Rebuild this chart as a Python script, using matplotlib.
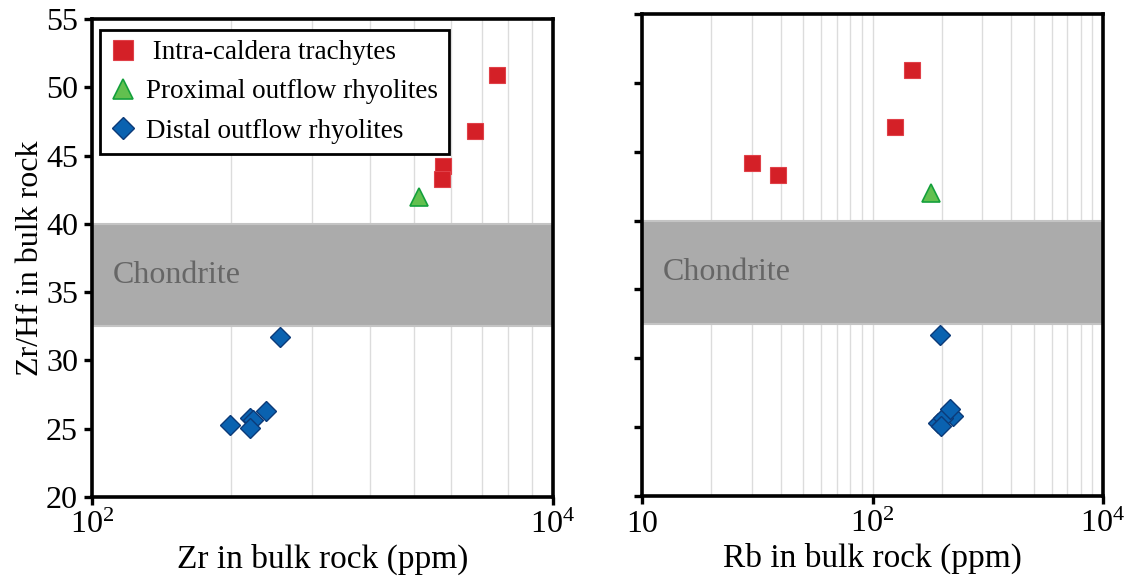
import numpy as np
import matplotlib
matplotlib.use('Agg')
import matplotlib.pyplot as plt
from matplotlib.ticker import FixedLocator, NullFormatter
from matplotlib import rcParams

rcParams['font.family'] = 'Liberation Serif'
rcParams['mathtext.fontset'] = 'custom'
rcParams['mathtext.rm'] = 'Liberation Serif'

#%% data
# Zr/Hf ratio per sample (shared by both panels)
trach_zrhf = [44.2, 43.3, 46.8, 50.9]
prox_zrhf = [42.0]
dist_zrhf = [25.3, 25.8, 25.65, 25.05, 26.3, 31.7]

# Zr (ppm)
trach_zr = [576, 573, 676, 757]
prox_zr = [511]
dist_zr = [199, 220, 224, 220, 238, 256]

# Rb (ppm)
trach_rb = [30.0, 38.9, 125, 149]
prox_rb = [179]
dist_rb = [192, 223, 202, 198, 217, 196]

chondrite = (32.5, 40.0)

#%% styles
red = dict(marker='s', ms=12, mfc='#d42027', mec='#e04048', mew=0.8, ls='none')
green = dict(marker='^', ms=12.5, mfc='#62c04f', mec='#14a03c', mew=1.2, ls='none')
blue = dict(marker='D', ms=10, mfc='#0a62b0', mec='#0c3a78', mew=1.0, ls='none')

fig = plt.figure(figsize=(11.24, 5.77), dpi=100)
axL = fig.add_axes([92/1124, 80/577, 461/1124, 478/577])
axR = fig.add_axes([642/1124, 81/577, 461/1124, 482/577])

def style(ax, xlim, minors):
    ax.set_xscale('log')
    ax.set_xlim(*xlim)
    ax.set_ylim(20, 55)
    ax.xaxis.set_minor_locator(FixedLocator(minors))
    ax.xaxis.set_minor_formatter(NullFormatter())
    ax.grid(True, which='both', axis='x', color='#dcdcdc', lw=1.0, zorder=0)
    ax.axhspan(chondrite[0], chondrite[1], color='#ababab', zorder=1, lw=0)
    ax.axhline(chondrite[0], color='#c4c4c4', lw=1.5, zorder=1.1)
    ax.axhline(chondrite[1], color='#c4c4c4', lw=1.5, zorder=1.1)
    ax.set_axisbelow(True)
    for s in ax.spines.values():
        s.set_linewidth(2.6)
        s.set_zorder(5)
    ax.tick_params(which='major', direction='out', length=6, width=2.4, labelsize=23, pad=4)
    ax.tick_params(which='minor', length=0)
    ax.set_yticks(np.arange(20, 56, 5))
    ax.text(0.045, 0.464, 'Chondrite', transform=ax.transAxes, fontsize=23,
            color='#666666', va='center', ha='left', zorder=2)

style(axL, (100, 1000), [200, 300, 400, 500, 600, 700, 800, 900])
axL.set_xticks([100, 1000])
axL.set_xticklabels([r'$\mathregular{10^2}$', r'$\mathregular{10^4}$'])
axL.plot(trach_zr, trach_zrhf, label=' Intra-caldera trachytes', zorder=4, **red)
axL.plot(prox_zr, prox_zrhf, label='Proximal outflow rhyolites', zorder=4, **green)
axL.plot(dist_zr, dist_zrhf, label='Distal outflow rhyolites', zorder=4, **blue)
axL.set_xlabel('Zr in bulk rock (ppm)', fontsize=24, labelpad=3)
axL.set_ylabel('Zr/Hf in bulk rock', fontsize=23, labelpad=1)

leg = axL.legend(loc='upper left', bbox_to_anchor=(0.017, 0.978), fontsize=19.5,
                 frameon=True, fancybox=False, framealpha=1, edgecolor='black',
                 borderpad=0.4, handletextpad=0.4, labelspacing=0.52, handlelength=0.9,
                 borderaxespad=0.0, markerscale=1.15)
leg.get_frame().set_linewidth(2.0)
leg.set_zorder(6)

style(axR, (10, 1000), [20, 30, 40, 50, 60, 70, 80, 90, 200, 300, 400, 500, 600, 700, 800, 900])
axR.set_xticks([10, 100, 1000])
axR.set_xticklabels(['10', r'$\mathregular{10^2}$', r'$\mathregular{10^4}$'])
axR.set_yticklabels([])
axR.plot(trach_rb, trach_zrhf, zorder=4, **red)
axR.plot(prox_rb, prox_zrhf, zorder=4, **green)
axR.plot(dist_rb, dist_zrhf, zorder=4, **blue)
axR.set_xlabel('Rb in bulk rock (ppm)', fontsize=24, labelpad=3)

fig.savefig('out.png', dpi=100)
